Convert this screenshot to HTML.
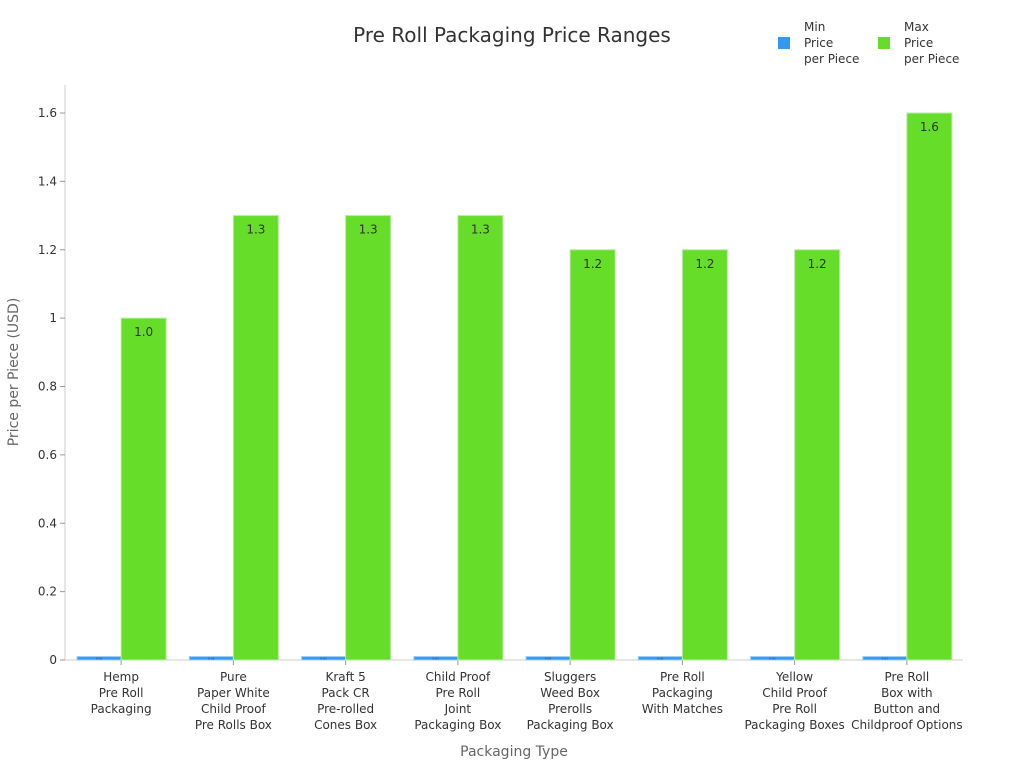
<!DOCTYPE html>
<html><head><meta charset="utf-8"><style>
body{margin:0;background:#fff;font-family:"Liberation Sans","DejaVu Sans",sans-serif;}
svg text{font-family:"DejaVu Sans","Liberation Sans",sans-serif;}
</style></head><body>
<svg id="chart" width="1024" height="768" xmlns="http://www.w3.org/2000/svg">
<text x="512" y="42" text-anchor="middle" font-size="20" fill="#333">Pre Roll Packaging Price Ranges</text>
<g font-size="12" fill="#333">
<g><rect x="778" y="37" width="12" height="12" fill="#3399f0"/><text x="804" y="31">Min</text><text x="804" y="47">Price</text><text x="804" y="63">per Piece</text></g>
<g><rect x="878" y="37" width="12" height="12" fill="#66dd29"/><text x="904" y="31">Max</text><text x="904" y="47">Price</text><text x="904" y="63">per Piece</text></g>
</g>
<g id="plot"></g>
<text transform="translate(18,372) rotate(-90)" text-anchor="middle" font-size="14" fill="#666">Price per Piece (USD)</text>
<text x="514" y="756" text-anchor="middle" font-size="14" fill="#666">Packaging Type</text>
</svg>
<script>
const categories=[["Hemp","Pre Roll","Packaging"],["Pure","Paper White","Child Proof","Pre Rolls Box"],["Kraft 5","Pack CR","Pre-rolled","Cones Box"],["Child Proof","Pre Roll","Joint","Packaging Box"],["Sluggers","Weed Box","Prerolls","Packaging Box"],["Pre Roll","Packaging","With Matches"],["Yellow","Child Proof","Pre Roll","Packaging Boxes"],["Pre Roll","Box with","Button and","Childproof Options"]];
const minValues=[0.01,0.01,0.01,0.01,0.01,0.01,0.01,0.01];
const maxValues=[1.0,1.3,1.3,1.3,1.2,1.2,1.2,1.6];
const yTicks=[0,0.2,0.4,0.6,0.8,1,1.2,1.4,1.6];
const NS="http://www.w3.org/2000/svg";
const g=document.getElementById('plot');
const X0=65,X1=963,Y0=660,Y1=113,YMAX=1.6;
const y=v=>Y0-(v/YMAX)*(Y0-Y1);
const bw=(X1-X0)/categories.length;
const x=i=>X0+i*bw;
function mk(t,a){const e=document.createElementNS(NS,t);for(const k in a)e.setAttribute(k,a[k]);g.appendChild(e);return e;}
let ax=mk('line',{x1:X0,y1:85,x2:X0,y2:Y0,stroke:'#ccc'});


let bx=mk('line',{x1:X0,y1:Y0,x2:X1,y2:Y0,stroke:'#ccc'});


yTicks.forEach(t=>{
 mk('line',{x1:X0-5,y1:y(t),x2:X0,y2:y(t),stroke:'#999'});
 const tx=mk('text',{x:X0-8,y:y(t)+4,'text-anchor':'end','font-size':12,fill:'#333'});
 tx.textContent=String(t);
 
 
});
categories.forEach((c,i)=>{
 const cx=x(i)+bw/2;
 mk('line',{x1:cx,y1:Y0,x2:cx,y2:Y0+5,stroke:'#999'});
 const r1=mk('rect',{x:cx-44,y:y(minValues[i]),width:44,height:Y0-y(minValues[i]),fill:'#3399f0',stroke:'#9cc8f0','stroke-width':1});
 
 
 const r2=mk('rect',{x:cx,y:y(maxValues[i]),width:45,height:Y0-y(maxValues[i]),fill:'#66dd29',stroke:'#b6eca0','stroke-width':1});
 
 
 const l=mk('text',{x:cx+22.5,y:y(maxValues[i])+18,'text-anchor':'middle','font-size':12,fill:'#333'});
 l.textContent=maxValues[i].toFixed(1);
 
 
 const l2=mk('text',{x:cx-22,y:y(minValues[i])+3,'text-anchor':'middle','font-size':3,fill:'#335'});
 l2.textContent=minValues[i].toFixed(2);
 
 
 c.forEach((line,j)=>{
  const t=mk('text',{x:cx,y:681+j*16,'text-anchor':'middle','font-size':12,fill:'#333'});
  t.textContent=line;
  
  
 });
});
</script>
</body></html>
